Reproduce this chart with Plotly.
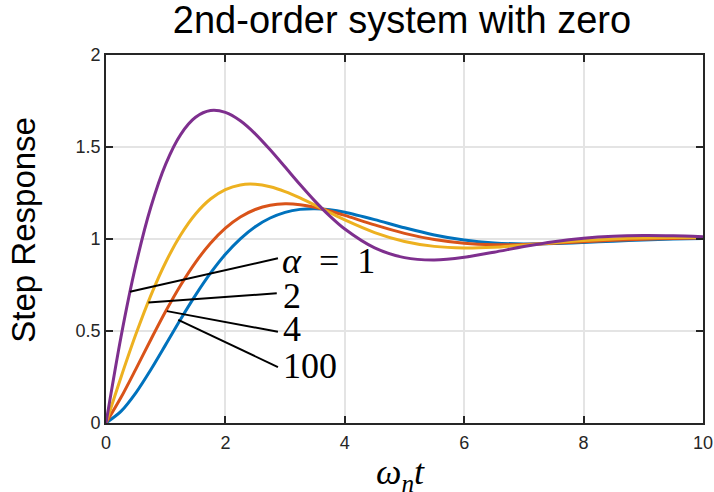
import plotly.graph_objects as go

# Normalised time omega_n * t
t = [0, 0.25, 0.5, 0.75, 1, 1.25, 1.5, 1.75, 2, 2.25, 2.5, 2.75, 3, 3.25, 3.5,
     3.75, 4, 4.5, 5, 5.5, 6, 6.5, 7, 7.5, 8, 8.5, 9, 9.5, 10]

# Step responses for each zero location alpha
resp_a1 = [0, 0.4665, 0.8591, 1.1726, 1.4073, 1.5677, 1.6613, 1.6979, 1.6880,
           1.6424, 1.5716, 1.4847, 1.3908, 1.2960, 1.2059, 1.1244, 1.0541,
           0.9516, 0.8987, 0.8862, 0.9005, 0.9284, 0.9591, 0.9856, 1.0044,
           1.0150, 1.0185, 1.0171, 1.0129]
resp_a2 = [0, 0.2476, 0.4818, 0.6926, 0.8738, 1.0218, 1.1359, 1.2173, 1.2687,
           1.2940, 1.2975, 1.2837, 1.2576, 1.2230, 1.1838, 1.1431, 1.1036,
           1.0350, 0.9867, 0.9599, 0.9514, 0.9556, 0.9667, 0.9799, 0.9917,
           1.0005, 1.0057, 1.0078, 1.0075]
resp_a4 = [0, 0.1381, 0.2931, 0.4527, 0.6071, 0.7489, 0.8732, 0.9770, 1.0591,
           1.1197, 1.1604, 1.1833, 1.1910, 1.1865, 1.1727, 1.1525, 1.1284,
           1.0767, 1.0306, 0.9968, 0.9768, 0.9692, 0.9705, 0.9770, 0.9854,
           0.9933, 0.9993, 1.0032, 1.0049]
resp_a100 = [0, 0.0630, 0.1640, 0.2895, 0.4260, 0.5640, 0.6950, 0.8140, 0.9170,
             1.0010, 1.0670, 1.1140, 1.1450, 1.1610, 1.1650, 1.1590, 1.1455,
             1.1055, 1.0610, 1.0222, 0.9945, 0.9786, 0.9732, 0.9751, 0.9810,
             0.9883, 0.9950, 0.9999, 1.0030]

x_ticks = [0, 2, 4, 6, 8, 10]
y_ticks = [0, 0.5, 1, 1.5, 2]
y_tick_text = ["0", "0.5", "1", "1.5", "2"]

alpha_labels = ["<i>α</i>\u2002=\u20021", "2", "4", "100"]

series = [
    (resp_a100, "#0072BD"),
    (resp_a4, "#D95319"),
    (resp_a2, "#EDB120"),
    (resp_a1, "#7E2F8E"),
]

fig = go.Figure()
for y, color in series:
    fig.add_trace(go.Scatter(
        x=t, y=y, mode="lines",
        line=dict(color=color, width=3, shape="spline", smoothing=0.8),
        showlegend=False, hoverinfo="skip",
    ))

# Leader lines from each curve to its alpha label
leaders = [
    ((0.40, 0.713), (2.88, 0.895)),
    ((0.71, 0.655), (2.86, 0.705)),
    ((1.02, 0.608), (2.88, 0.496)),
    ((1.21, 0.560), (2.88, 0.304)),
]
for (x0, y0), (x1, y1) in leaders:
    fig.add_shape(type="line", x0=x0, y0=y0, x1=x1, y1=y1,
                  xref="x", yref="y", line=dict(color="black", width=2))

label_pos = [(2.92, 0.880), (2.93, 0.692), (2.93, 0.512), (2.93, 0.312)]
for text, (lx, ly) in zip(alpha_labels, label_pos):
    fig.add_annotation(x=lx, y=ly, xref="x", yref="y", text=text,
                       showarrow=False, xanchor="left", yanchor="middle",
                       font=dict(family="Liberation Serif", size=36, color="black"))

# Axis labels
fig.add_annotation(x=-0.1375, y=0.525, xref="paper", yref="paper",
                   text="Step Response", textangle=-90, showarrow=False,
                   xanchor="center", yanchor="middle",
                   font=dict(family="Liberation Sans", size=33, color="black"))
fig.add_annotation(x=0.494, y=-0.1386, xref="paper", yref="paper",
                   text="<i>ω<sub>n</sub>t</i>", showarrow=False,
                   xanchor="center", yanchor="middle",
                   font=dict(family="Liberation Serif", size=36, color="black"))

axis_common = dict(
    showline=True, linecolor="#262626", linewidth=1.6, mirror="allticks",
    ticks="inside", ticklen=7, tickwidth=1.6, tickcolor="#262626",
    showgrid=True, gridcolor="#e4e4e4", gridwidth=1.5, zeroline=False,
    automargin=False,
    tickfont=dict(family="Liberation Sans", size=18, color="#262626"),
)

fig.update_xaxes(range=[0, 10], tickvals=x_ticks, ticklabelstandoff=3, **axis_common)
fig.update_yaxes(range=[0, 2], tickvals=y_ticks, ticktext=y_tick_text, **axis_common)

fig.update_layout(
    width=714, height=492,
    margin=dict(l=106, r=11, t=55, b=69),
    paper_bgcolor="white", plot_bgcolor="white",
    title=dict(text="2nd-order system with zero", x=0.563, xanchor="center",
               y=0.988, yanchor="top",
               font=dict(family="Liberation Sans", size=38, color="black")),
)

fig.write_html("out.html")
